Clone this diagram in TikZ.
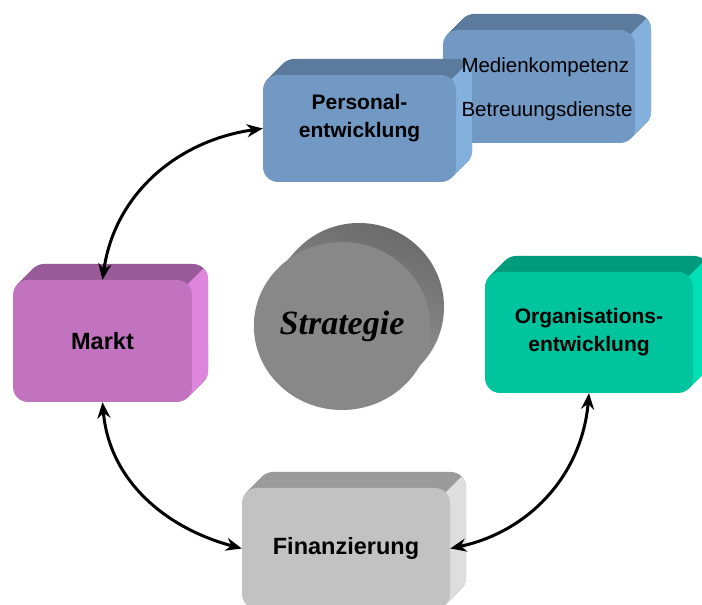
\documentclass[tikz,border=0pt]{standalone}
\usepackage{fontspec}
\usepackage{tikz}
\usetikzlibrary{arrows.meta}
\usetikzlibrary{shapes.geometric}
\newfontfamily\arialfont{Liberation Sans}
\newfontfamily\timesfont{Liberation Serif}

\definecolor{bluefront}{HTML}{7299C4}
\definecolor{bluetop}{HTML}{5C7A9B}
\definecolor{blueside}{HTML}{84B0DE}
\definecolor{markfront}{HTML}{C273C0}
\definecolor{marktop}{HTML}{985A98}
\definecolor{markside}{HTML}{DE85DE}
\definecolor{orgfront}{HTML}{00C49E}
\definecolor{orgtop}{HTML}{009B7D}
\definecolor{orgside}{HTML}{00E0B4}
\definecolor{finfront}{HTML}{C2C2C2}
\definecolor{fintop}{HTML}{9B9B9B}
\definecolor{finside}{HTML}{DEDEDE}
\definecolor{stratfront}{HTML}{888888}
\definecolor{stratdark}{HTML}{6C6C6C}
\definecolor{stratlight}{HTML}{A2A2A2}

% depth of a box: centre x, centre y, half width, half height, top colour, side colour
\newcommand{\extrude}[6]{%
  \foreach \k in {1,...,16}
    \fill[#5, rounded corners=15pt] ({#1-#3+\k},{#2-#4+\k}) rectangle ({#1+#3+\k},{#2+#4+\k});
  \fill[#6] ({#1+#3-4.4},{#2+#4-4.4}) -- ++(16,16)
    arc[start angle=45, end angle=0, radius=15pt] -- ({#1+#3+16},{#2-#4+31})
    arc[start angle=0, end angle=-45, radius=15pt] -- ({#1+#3-4.4},{#2-#4+4.4})
    -- ({#1+#3-15},{#2-#4+15}) -- ({#1+#3-15},{#2+#4-15}) -- cycle;
}

\begin{document}
\begin{tikzpicture}[x=1pt, y=1pt,
                boxnode/.style={rectangle, rounded corners=15pt, inner sep=0pt, align=center,
                                font=\arialfont\bfseries\fontsize{21}{28}\selectfont},
                bigtext/.style={font=\arialfont\bfseries\fontsize{23.5}{28}\selectfont},
                linkarrow/.style={{Stealth[length=16pt, width=13pt]}-{Stealth[length=16pt, width=13pt]}, line width=3pt},
                ]
                \useasboundingbox (0,0) rectangle (702,605);

                % Medienkompetenz behind Personalentwicklung
                \extrude{539}{518.5}{96}{56.5}{bluetop}{blueside}
                \node[boxnode, fill=bluefront, minimum width=192pt, minimum height=113pt] (medien) at (539,518.5) {};

                \extrude{359.5}{476.5}{96.5}{53.5}{bluetop}{blueside}
                \node[boxnode, fill=bluefront, minimum width=193pt, minimum height=107pt,
                      label={[yshift=10pt, boxnode]center:Personal-\\entwicklung}]
                      (personal) at (359.5,476.5) {};

                \node[align=left, font=\arialfont\fontsize{20.5}{44}\selectfont] (medientext)
                      at ([xshift=8pt, yshift=-3pt]medien.center) {Medienkompetenz\\Betreuungsdienste};

                \extrude{102.5}{264}{89.5}{61}{marktop}{markside}
                \node[boxnode, bigtext, fill=markfront, minimum width=179pt, minimum height=122pt] (markt) at (102.5,264) {Markt};

                \extrude{589}{272.5}{104}{60.5}{orgtop}{orgside}
                \node[boxnode, fill=orgfront, minimum width=208pt, minimum height=121pt] (org) at (589,272.5) {Organisations-\\entwicklung};

                \extrude{346}{56.5}{104}{60.5}{fintop}{finside}
                \node[boxnode, bigtext, fill=finfront, minimum width=208pt, minimum height=121pt] (finanz) at (346,56.5) {Finanzierung};

                % Strategie cylinder
                \shade[left color=stratdark, right color=stratlight, shading angle=-20]
                  \foreach \k in {1,...,19} { ({342+\k*17/19},{279+\k}) ellipse [x radius=85, y radius=84] };
                \node[ellipse, fill=stratfront, minimum width=170pt, minimum height=168pt, inner sep=0pt,
                      font=\timesfont\bfseries\itshape\fontsize{34}{40}\selectfont] (strategie) at (342,279) {Strategie};

                \draw[linkarrow] (markt.north) to[out=82, in=188] (personal.west);
                \draw[linkarrow] (markt.south) to[out=-85, in=165] (finanz.west);
                \draw[linkarrow] (org.south) to[out=-95, in=12] (finanz.east);
\end{tikzpicture}
\end{document}
